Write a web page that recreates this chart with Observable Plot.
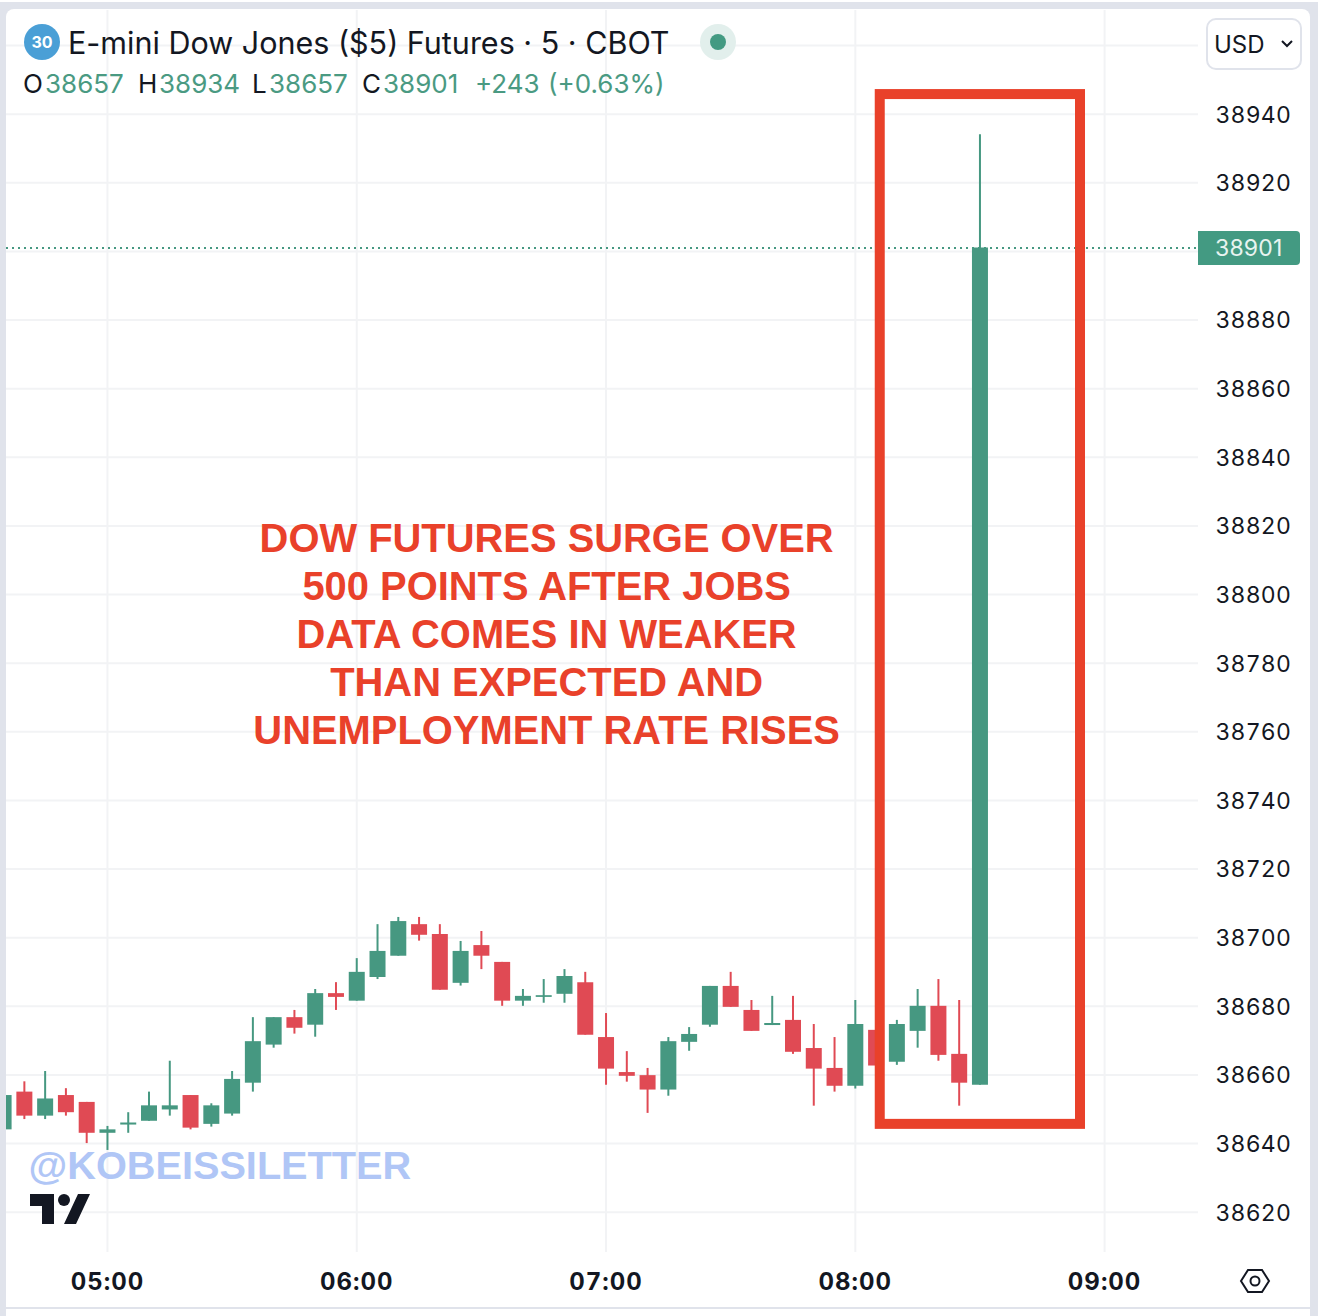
<!DOCTYPE html>
<html><head><meta charset="utf-8">
<script src="https://cdn.jsdelivr.net/npm/d3@7"></script>
<script src="https://cdn.jsdelivr.net/npm/@observablehq/plot@0.6"></script>
<style>
html,body{margin:0;padding:0;background:#e0e3eb;width:1318px;height:1316px;overflow:hidden}
#page{position:relative;width:1318px;height:1316px;font-family:Inter,sans-serif;color:#131722}
.abs{position:absolute;white-space:nowrap}
#card{left:6px;top:9px;width:1304px;height:1307px;background:#fff;border-radius:8px 8px 0 0}
#chart{left:0;top:0}
#chart svg{display:block;background:transparent}
#chart svg g[aria-label="x-axis tick label"] text{letter-spacing:1px}
#chart svg g[aria-label="y-axis tick label"] text{letter-spacing:.2px}
.g{color:#4a9a82}
</style></head><body>
<div id="page">
<div class="abs" style="left:0;top:0;width:1318px;height:2px;background:#fff"></div>
<div class="abs" id="card"></div>
<div class="abs" style="left:6px;top:1307px;width:1304px;height:2px;background:#e0e3eb"></div>
<div class="abs" id="chart"></div>
<div class="abs" style="left:0;top:2px;width:6px;height:1314px;background:#e0e3eb"></div>

<div class="abs" style="left:24px;top:24px;width:36px;height:36px;border-radius:50%;background:#4a9fd6;color:#fff;font-size:16px;font-weight:700;line-height:36px;text-align:center">30</div>
<div class="abs" id="title" style="left:68px;top:24px;font-size:30.5px;line-height:38px"></div>
<div class="abs" style="left:700px;top:24px;width:36px;height:36px;border-radius:50%;background:#e2efec"></div>
<div class="abs" style="left:710px;top:34px;width:16px;height:16px;border-radius:50%;background:#439a82"></div>
<div class="abs" id="ohlc" style="left:0;top:68px;height:32px;width:700px;font-size:26px;line-height:32px"></div>

<div class="abs" style="left:1206px;top:18px;width:92px;height:48px;border:2px solid #e0e3eb;border-radius:10px"></div>
<div class="abs" style="left:1214px;top:30px;font-size:24px;line-height:30px">USD</div>
<svg class="abs" style="left:1280px;top:39px" width="14" height="10" viewBox="0 0 14 10"><path d="M2 2 L7 7 L12 2" fill="none" stroke="#131722" stroke-width="2"/></svg>

<div class="abs" id="lastPrice" style="left:1198px;top:231px;width:102px;height:34px;background:#439a82;border-radius:0 4px 4px 0;color:#e8f4f0;font-size:23px;letter-spacing:.2px;line-height:35px;text-indent:17px"></div>

<svg class="abs" style="left:30px;top:1194px" width="60" height="30" viewBox="0 0 60 30"><path d="M0 0H24V30H12V12H0Z M60 0L46 30H34L48 0Z" fill="#131722"/><circle cx="34" cy="6" r="6" fill="#131722"/></svg>
<svg class="abs" style="left:1239px;top:1267px" width="32" height="28" viewBox="0 0 32 28"><path d="M9 3H23L30 14L23 25H9L2 14Z" fill="none" stroke="#131722" stroke-width="2"/><circle cx="16" cy="14" r="4.5" fill="none" stroke="#131722" stroke-width="2"/></svg>
</div>
<script>
const times=["04:35","04:40","04:45","04:50","04:55","05:00","05:05","05:10","05:15","05:20","05:25","05:30","05:35","05:40","05:45","05:50","05:55","06:00","06:05","06:10","06:15","06:20","06:25","06:30","06:35","06:40","06:45","06:50","06:55","07:00","07:05","07:10","07:15","07:20","07:25","07:30","07:35","07:40","07:45","07:50","07:55","08:00","08:05","08:10","08:15","08:20","08:25","08:30"];
const opens =[38644,38655,38648,38654,38652,38643,38645.4,38646.5,38649.8,38654,38645.6,38648.6,38657.6,38668.7,38676.7,38674.5,38683.7,38681.5,38688.4,38694.6,38703.8,38700.9,38686.7,38697.7,38692.8,38681.5,38682.6,38683.5,38686.9,38670.9,38660.7,38659.8,38655.6,38669.5,38674.5,38685.8,38678.8,38674.4,38675.9,38667.7,38661.9,38656.7,38673,38663.7,38672.7,38680,38666,38657];
const highs =[38654,38658,38661,38656,38652,38645,38649,38655,38664,38654,38651.6,38661,38676.7,38676.7,38678.8,38684.9,38686.9,38693.9,38703.8,38705.9,38705.9,38703.8,38698.9,38701.8,38692.8,38684.9,38687.8,38690.7,38689.9,38677.9,38666.8,38661.9,38670.9,38673.8,38685.8,38689.9,38681.7,38682.9,38682.9,38674.7,38670.9,38681.7,38673,38675.9,38684.9,38687.8,38681.7,38934];
const lows  =[38644,38647,38647,38648,38640,38638,38643,38646.5,38648,38644,38644.8,38648,38655,38667.8,38671.9,38671,38678.8,38681.5,38687.8,38694.6,38699,38684.7,38685.9,38690.7,38680,38680,38680.9,38680.9,38671.6,38657,38657.9,38648.8,38653.8,38666.9,38673.9,38679.7,38672.7,38674.4,38666,38650.9,38655,38655.9,38662.6,38662.8,38667.8,38664,38650.9,38657];
const closes=[38654,38648,38653,38649,38643,38644,38646,38651,38651,38644.5,38651,38658.7,38669.7,38676.7,38673.6,38683.7,38682.6,38689.9,38696,38704.7,38700.7,38684.7,38696,38694.6,38681.5,38682.9,38683.1,38688.7,38671.6,38661.7,38659.6,38655.6,38669.7,38671.8,38685.8,38679.7,38672.7,38675,38666.6,38661.7,38656.7,38674.7,38662.6,38674.7,38680,38665.7,38657.6,38901];
const priceGrid=[38620,38640,38660,38680,38700,38720,38740,38760,38780,38800,38820,38840,38860,38880,38900,38920,38940,38960];
const priceLabels=[38620,38640,38660,38680,38700,38720,38740,38760,38780,38800,38820,38840,38860,38880,38920,38940];
const hourTicks=["05:00","06:00","07:00","08:00","09:00"];
const lastClose=38901;
const frameTimes=["08:06:00","08:54:12"];
const framePrices=[38645.6,38945.7];
const headline=["DOW FUTURES SURGE OVER","500 POINTS AFTER JOBS","DATA COMES IN WEAKER","THAN EXPECTED AND","UNEMPLOYMENT RATE RISES"];
const titleText="E-mini Dow Jones ($5) Futures · 5 · CBOT";
const ohlcItems=[["O",23,"#131722"],["38657",45,"g"],["H",138,"#131722"],["38934",159,"g"],["L",252,"#131722"],["38657",269,"g"],["C",362,"#131722"],["38901",383,"g"],["+243",475,"g"],["(+0.63%)",548,"g"]];

const T=s=>new Date(`2024-03-08T${s.length===5?s+":00":s}Z`);
const GREEN="#469881",RED="#e04a54",ORANGE="#e9412a";
const candles=times.map((t,i)=>({t:T(t),o:opens[i],h:highs[i],l:lows[i],c:closes[i]}));
const col=d=>d.c>=d.o?GREEN:RED;

const plot=Plot.plot({
  width:1318,height:1316,
  marginLeft:6,marginRight:120,marginTop:10,marginBottom:64,
  style:{background:"transparent",fontFamily:"Inter, sans-serif"},
  x:{type:"utc",domain:[T("04:35:42"),T("09:22:36")]},
  y:{domain:[38608.26,38970.2]},
  marks:[
    Plot.gridY(priceGrid,{stroke:"#f2f3f5",strokeOpacity:1,strokeWidth:2}),
    Plot.gridX(hourTicks.map(T),{stroke:"#f2f3f5",strokeOpacity:1,strokeWidth:2}),
    Plot.axisY({anchor:"right",ticks:priceLabels,tickSize:0,tickPadding:17,tickFormat:d=>String(d),fontSize:23,dy:1,label:null,color:"#131722"}),
    Plot.axisX({anchor:"bottom",ticks:hourTicks.map(T),tickSize:0,tickPadding:20,tickFormat:d3.utcFormat("%H:%M"),fontSize:24,fontWeight:700,label:null,color:"#131722"}),
    Plot.ruleY([lastClose],{stroke:GREEN,strokeWidth:2,strokeDasharray:"2 4"}),
    Plot.ruleX(candles,{x:"t",y1:"l",y2:"h",stroke:col,strokeWidth:2}),
    Plot.ruleX(candles,{x:"t",y1:"o",y2:"c",stroke:col,strokeWidth:16}),
    Plot.rect([0],{x1:()=>T(frameTimes[0]),x2:()=>T(frameTimes[1]),y1:()=>framePrices[0],y2:()=>framePrices[1],fill:"none",stroke:ORANGE,strokeWidth:10}),
    Plot.text([headline.join("\n")],{x:()=>T("06:45:42"),y:()=>38789,text:d=>d,fontFamily:"Liberation Sans",fontWeight:700,fontSize:39.9,lineHeight:1.203,fill:ORANGE,textAnchor:"middle",lineAnchor:"middle"}),
    Plot.text(["@KOBEISSILETTER"],{x:()=>T("04:41:00"),y:()=>38633.3,text:d=>d,fontFamily:"Liberation Sans",fontWeight:700,fontSize:39.7,fill:"#b0c6f6",textAnchor:"start",lineAnchor:"middle"})
  ]
});
document.getElementById("chart").appendChild(plot);
document.getElementById("title").textContent=titleText;
document.getElementById("lastPrice").textContent=String(lastClose);
const oh=document.getElementById("ohlc");
ohlcItems.forEach(([s,x,c])=>{const e=document.createElement("span");e.className="abs";e.style.left=x+"px";e.textContent=s;if(c==="g")e.classList.add("g");else e.style.color=c;oh.appendChild(e);});
</script>
</body></html>
